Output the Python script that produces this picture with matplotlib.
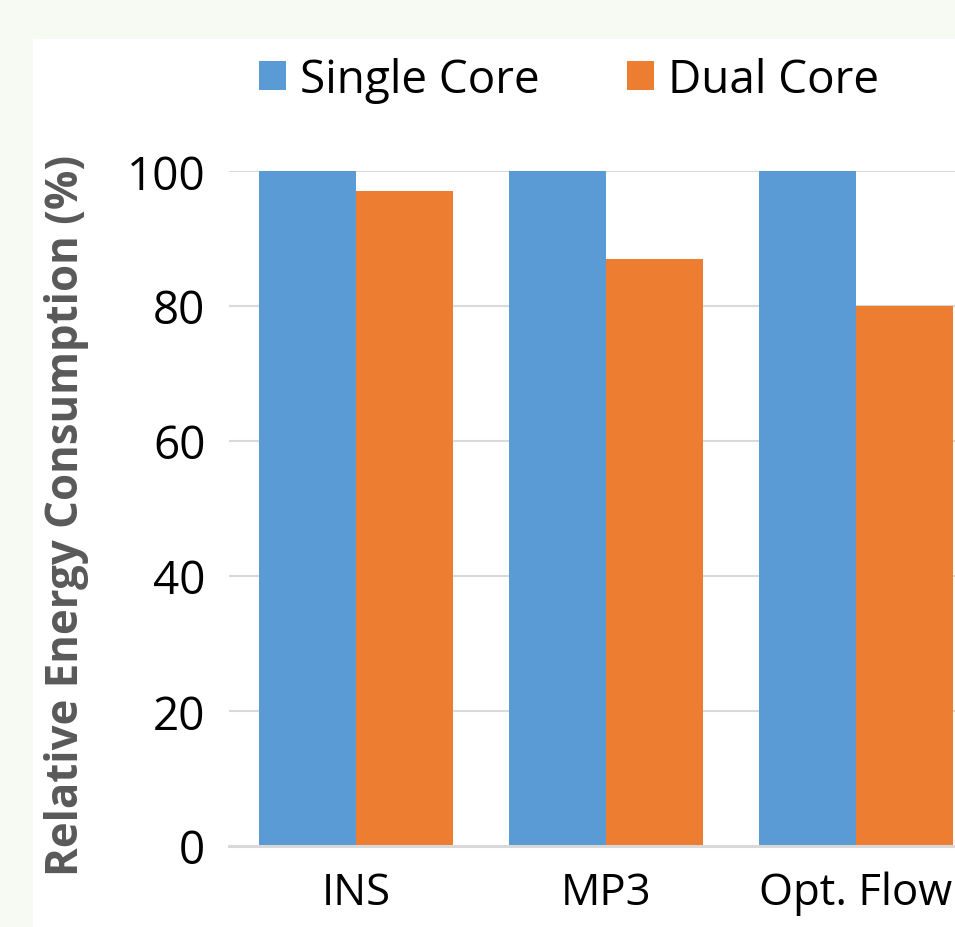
import matplotlib.pyplot as plt
import numpy as np
from matplotlib.patches import Rectangle

# Relative energy consumption per benchmark (%)
benchmarks = ['INS', 'MP3', 'Opt. Flow']
single_core = [100, 100, 100]
dual_core = [97, 87, 80]

blue = '#5B9BD5'
orange = '#ED7D31'
grid_col = '#D9D9D9'

plt.rcParams['font.family'] = ['Open Sans', 'DejaVu Sans']

W, H = 955, 928
fig = plt.figure(figsize=(W / 100, H / 100), dpi=100)
fig.patch.set_facecolor('#F7F9F3')

# white chart area
fig.patches.append(Rectangle((33 / W, 0), 1, 1 - 40 / H, transform=fig.transFigure,
                             facecolor='white', edgecolor='none', zorder=-5))

ax = fig.add_axes([229 / W, (H - 847) / H, 1 - 229 / W, (847 - 172) / H])
ax.set_facecolor('none')
ax.set_zorder(2)

x = np.arange(len(benchmarks))
w = 0.388
ax.bar(x - w / 2, single_core, w, color=blue, label='Single Core', zorder=2)
ax.bar(x + w / 2, dual_core, w, color=orange, label='Dual Core', zorder=2)

ax.set_xlim(-0.508, 2.396)
ax.set_ylim(0, 100)
ax.set_yticks(range(0, 101, 20))
ax.set_xticks(x)
ax.set_xticklabels(benchmarks)
ax.yaxis.grid(True, color=grid_col, linewidth=1.5, zorder=1)
ax.set_axisbelow(True)
for s in ['top', 'right', 'left']:
    ax.spines[s].set_visible(False)
ax.spines['bottom'].set_color(grid_col)
ax.spines['bottom'].set_linewidth(2.2)
ax.spines['bottom'].set_zorder(3)
ax.tick_params(axis='both', length=0, labelsize=33, colors='black')
ax.tick_params(axis='y', pad=17)
ax.tick_params(axis='x', pad=18, labelsize=31.5)

fig.text(67 / W, (H - 515) / H, 'Relative Energy Consumption (%)', rotation=90,
         ha='center', va='center', fontsize=31.5, fontweight='bold', color='#595959')

handles, labels = ax.get_legend_handles_labels()
fig.legend(handles, labels, loc='center', bbox_to_anchor=(569 / W, (H - 81) / H),
           ncol=2, frameon=False, fontsize=33, handlelength=0.6, handleheight=0.6,
           handletextpad=0.3, columnspacing=1.9, borderaxespad=0)

fig.savefig('out.png', dpi=100, facecolor=fig.get_facecolor())
